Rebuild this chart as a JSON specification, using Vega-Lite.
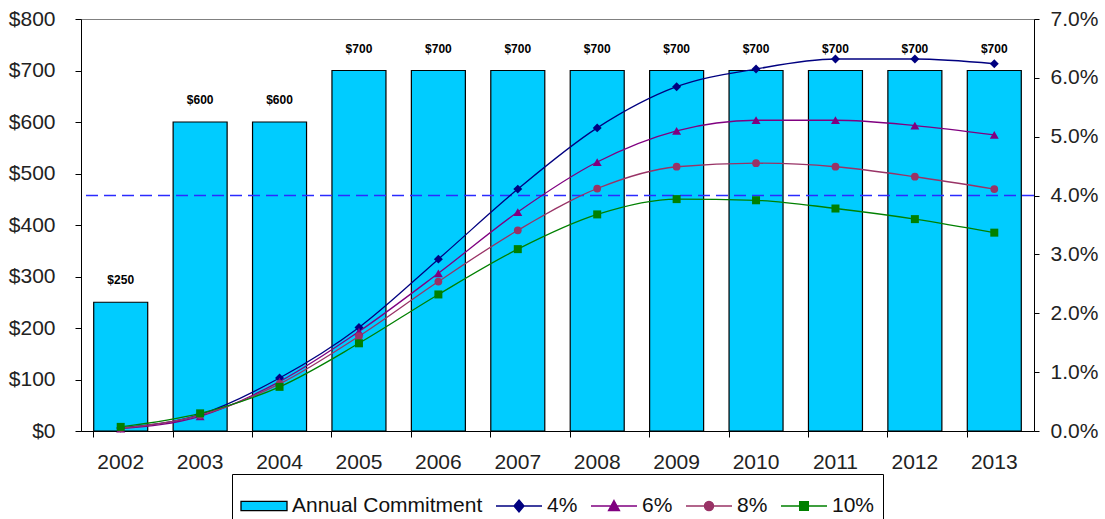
{
  "$schema": "https://vega.github.io/schema/vega-lite/v6.json",
  "width": 953,
  "height": 412,
  "autosize": "none",
  "padding": {"left": 81, "top": 19, "right": 71, "bottom": 88},
  "background": "white",
  "config": {
    "view": {"stroke": "#808080", "strokeWidth": 1},
    "font": "Liberation Sans",
    "legend": {"layout": {"bottom": {"anchor": "middle"}}}
  },
  "data": {
    "values": [
      {"year": "2002", "series": "Annual Commitment", "value": 250},
      {"year": "2003", "series": "Annual Commitment", "value": 600},
      {"year": "2004", "series": "Annual Commitment", "value": 600},
      {"year": "2005", "series": "Annual Commitment", "value": 700},
      {"year": "2006", "series": "Annual Commitment", "value": 700},
      {"year": "2007", "series": "Annual Commitment", "value": 700},
      {"year": "2008", "series": "Annual Commitment", "value": 700},
      {"year": "2009", "series": "Annual Commitment", "value": 700},
      {"year": "2010", "series": "Annual Commitment", "value": 700},
      {"year": "2011", "series": "Annual Commitment", "value": 700},
      {"year": "2012", "series": "Annual Commitment", "value": 700},
      {"year": "2013", "series": "Annual Commitment", "value": 700},
      {"year": "2002", "series": "4%", "value": 0.0005},
      {"year": "2003", "series": "4%", "value": 0.0028},
      {"year": "2004", "series": "4%", "value": 0.0090},
      {"year": "2005", "series": "4%", "value": 0.0176},
      {"year": "2006", "series": "4%", "value": 0.0292},
      {"year": "2007", "series": "4%", "value": 0.0411},
      {"year": "2008", "series": "4%", "value": 0.0515},
      {"year": "2009", "series": "4%", "value": 0.0585},
      {"year": "2010", "series": "4%", "value": 0.0615},
      {"year": "2011", "series": "4%", "value": 0.0632},
      {"year": "2012", "series": "4%", "value": 0.0632},
      {"year": "2013", "series": "4%", "value": 0.0624},
      {"year": "2002", "series": "6%", "value": 0.0004},
      {"year": "2003", "series": "6%", "value": 0.0025},
      {"year": "2004", "series": "6%", "value": 0.0084},
      {"year": "2005", "series": "6%", "value": 0.0169},
      {"year": "2006", "series": "6%", "value": 0.0268},
      {"year": "2007", "series": "6%", "value": 0.0372},
      {"year": "2008", "series": "6%", "value": 0.0457},
      {"year": "2009", "series": "6%", "value": 0.0510},
      {"year": "2010", "series": "6%", "value": 0.0528},
      {"year": "2011", "series": "6%", "value": 0.0528},
      {"year": "2012", "series": "6%", "value": 0.0519},
      {"year": "2013", "series": "6%", "value": 0.0503},
      {"year": "2002", "series": "8%", "value": 0.0005},
      {"year": "2003", "series": "8%", "value": 0.0027},
      {"year": "2004", "series": "8%", "value": 0.0080},
      {"year": "2005", "series": "8%", "value": 0.0161},
      {"year": "2006", "series": "8%", "value": 0.0254},
      {"year": "2007", "series": "8%", "value": 0.0341},
      {"year": "2008", "series": "8%", "value": 0.0412},
      {"year": "2009", "series": "8%", "value": 0.0449},
      {"year": "2010", "series": "8%", "value": 0.0455},
      {"year": "2011", "series": "8%", "value": 0.0449},
      {"year": "2012", "series": "8%", "value": 0.0432},
      {"year": "2013", "series": "8%", "value": 0.0411},
      {"year": "2002", "series": "10%", "value": 0.0007},
      {"year": "2003", "series": "10%", "value": 0.0030},
      {"year": "2004", "series": "10%", "value": 0.0075},
      {"year": "2005", "series": "10%", "value": 0.0149},
      {"year": "2006", "series": "10%", "value": 0.0232},
      {"year": "2007", "series": "10%", "value": 0.0309},
      {"year": "2008", "series": "10%", "value": 0.0368},
      {"year": "2009", "series": "10%", "value": 0.0394},
      {"year": "2010", "series": "10%", "value": 0.0392},
      {"year": "2011", "series": "10%", "value": 0.0378},
      {"year": "2012", "series": "10%", "value": 0.0360},
      {"year": "2013", "series": "10%", "value": 0.0337}
    ]
  },
  "layer": [
    {
      "transform": [{"filter": "datum.series === 'Annual Commitment'"}],
      "encoding": {
        "x": {"field": "year", "type": "ordinal", "scale": {"paddingInner": 0.32, "paddingOuter": 0.16},
          "axis": {"title": null, "labelAngle": 0, "labelFontSize": 21, "labelColor": "#222", "labelFont": "Liberation Sans", "domainColor": "black", "tickColor": "black", "tickSize": 6, "labelPadding": 14, "bandPosition": 0}},
        "y": {"field": "value", "type": "quantitative", "scale": {"domain": [0, 800], "nice": false},
          "axis": {"orient": "left", "title": null, "values": [0, 100, 200, 300, 400, 500, 600, 700, 800], "format": "$.0f", "grid": false, "labelFontSize": 21, "labelColor": "#222", "labelFont": "Liberation Sans", "domainColor": "black", "tickColor": "black", "tickSize": 6, "labelPadding": 20}}
      },
      "layer": [
        {
          "mark": {"type": "bar", "stroke": "black", "strokeWidth": 1.2},
          "encoding": {
            "fill": {"field": "series", "type": "nominal"}
          }
        },
        {
          "mark": {"type": "text", "baseline": "bottom", "dy": -15, "fontSize": 12, "fontWeight": "bold", "font": "Liberation Sans", "color": "black"},
          "encoding": {
            "text": {"field": "value", "type": "quantitative", "format": "$.0f"}
          }
        }
      ]
    },
    {
      "layer": [
        {
          "data": {"values": [{"r": 0.04}]},
          "mark": {"type": "rule", "color": "#2b2bff", "strokeWidth": 1.5, "strokeDash": [12, 6]},
          "encoding": {
            "y": {"field": "r", "type": "quantitative", "scale": {"domain": [0, 0.07], "nice": false},
              "axis": {"orient": "right", "title": null, "values": [0, 0.01, 0.02, 0.03, 0.04, 0.05, 0.06, 0.07], "format": ".1%", "grid": false, "labelFontSize": 21, "labelColor": "#222", "labelFont": "Liberation Sans", "domainColor": "black", "tickColor": "black", "tickSize": 5, "labelPadding": 11}}
          }
        },
        {
          "transform": [{"filter": "datum.series !== 'Annual Commitment'"}],
          "mark": {"type": "line", "interpolate": "monotone", "strokeWidth": 1.3},
          "encoding": {
            "x": {"field": "year", "type": "ordinal"},
            "y": {"field": "value", "type": "quantitative"},
            "stroke": {"field": "series", "type": "nominal"}
          }
        },
        {
          "transform": [{"filter": "datum.series === '4%'"}],
          "mark": {"type": "point", "shape": "diamond", "filled": true, "opacity": 1, "size": 80},
          "encoding": {
            "x": {"field": "year", "type": "ordinal"},
            "y": {"field": "value", "type": "quantitative"},
            "fill": {"field": "series", "type": "nominal"}
          }
        },
        {
          "transform": [{"filter": "datum.series === '6%'"}],
          "mark": {"type": "point", "shape": "triangle-up", "filled": true, "opacity": 1, "size": 80},
          "encoding": {
            "x": {"field": "year", "type": "ordinal"},
            "y": {"field": "value", "type": "quantitative"},
            "fill": {"field": "series", "type": "nominal"}
          }
        },
        {
          "transform": [{"filter": "datum.series === '8%'"}],
          "mark": {"type": "point", "shape": "circle", "filled": true, "opacity": 1, "size": 60},
          "encoding": {
            "x": {"field": "year", "type": "ordinal"},
            "y": {"field": "value", "type": "quantitative"},
            "fill": {"field": "series", "type": "nominal"}
          }
        },
        {
          "transform": [{"filter": "datum.series === '10%'"}],
          "mark": {"type": "point", "shape": "square", "filled": true, "opacity": 1, "size": 64},
          "encoding": {
            "x": {"field": "year", "type": "ordinal"},
            "y": {"field": "value", "type": "quantitative"},
            "fill": {"field": "series", "type": "nominal"}
          }
        },
        {
          "transform": [{"filter": "datum.series === 'none'"}],
          "mark": {"type": "point", "filled": true, "opacity": 1, "strokeWidth": 1.2},
          "encoding": {
            "x": {"field": "year", "type": "ordinal"},
            "y": {"field": "value", "type": "quantitative"},
            "fill": {"field": "series", "type": "nominal",
              "scale": {"domain": ["Annual Commitment", "4%", "6%", "8%", "10%"], "range": ["#00ccff", "#000080", "#800080", "#993366", "#008000"]},
              "legend": {"title": null, "orient": "bottom", "direction": "horizontal", "symbolSize": 2116, "symbolStrokeWidth": 1.3, "symbolOpacity": 1, "labelFontSize": 21, "labelFont": "Liberation Sans", "labelColor": "#111", "labelOffset": 4, "labelLimit": 300, "columnPadding": 10, "strokeColor": "black", "padding": 8, "offset": 2}},
            "stroke": {"field": "series", "type": "nominal",
              "scale": {"domain": ["Annual Commitment", "4%", "6%", "8%", "10%"], "range": ["#000000", "#000080", "#800080", "#993366", "#008000"]},
              "legend": {"title": null, "orient": "bottom", "direction": "horizontal", "symbolSize": 2116, "symbolStrokeWidth": 1.3, "symbolOpacity": 1, "labelFontSize": 21, "labelFont": "Liberation Sans", "labelColor": "#111", "labelOffset": 4, "labelLimit": 300, "columnPadding": 10, "strokeColor": "black", "padding": 8, "offset": 2}},
            "shape": {"field": "series", "type": "nominal",
              "scale": {"domain": ["Annual Commitment", "4%", "6%", "8%", "10%"], "range": [
                "M-1,-0.2H1V0.2H-1Z",
                "M-1,0H1M0,-0.26L0.22,0L0,0.26L-0.22,0Z",
                "M-1,0H1M0,-0.24L0.24,0.2H-0.24Z",
                "M-1,0H1M-0.2,0A0.2,0.2 0 1,0 0.2,0A0.2,0.2 0 1,0 -0.2,0Z",
                "M-1,0H1M-0.19,-0.19H0.19V0.19H-0.19Z"]},
              "legend": {"title": null, "orient": "bottom", "direction": "horizontal", "symbolSize": 2116, "symbolStrokeWidth": 1.3, "symbolOpacity": 1, "labelFontSize": 21, "labelFont": "Liberation Sans", "labelColor": "#111", "labelOffset": 4, "labelLimit": 300, "columnPadding": 10, "strokeColor": "black", "padding": 8, "offset": 2}}
          }
        }
      ]
    }
  ],
  "resolve": {"scale": {"y": "independent"}}
}
